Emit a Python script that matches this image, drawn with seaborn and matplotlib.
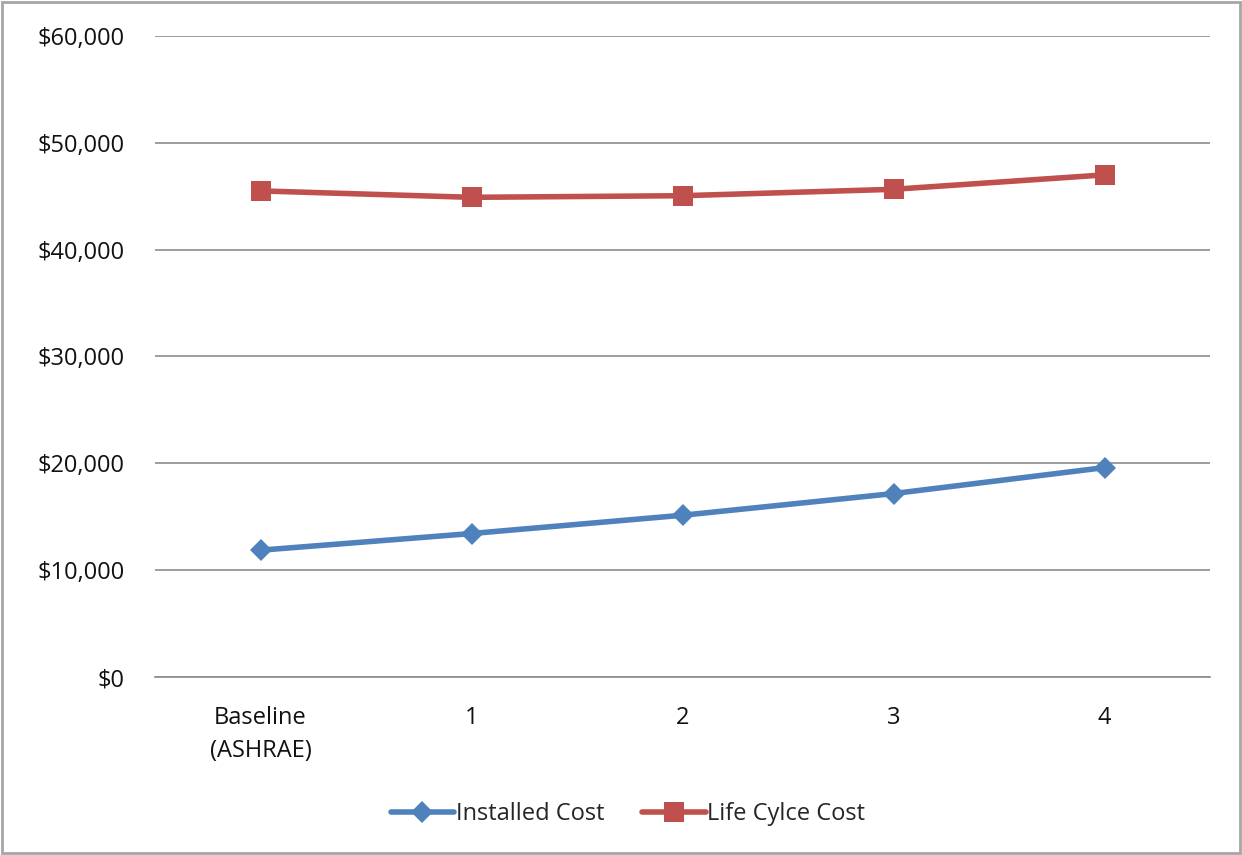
import matplotlib
matplotlib.use("Agg")
import matplotlib.pyplot as plt
import seaborn as sns
import pandas as pd
from matplotlib.patches import Rectangle
from matplotlib.ticker import FuncFormatter, MultipleLocator

categories = ["Baseline\n(ASHRAE)", "1", "2", "3", "4"]
installed_cost = [11870, 13430, 15140, 17170, 19600]
life_cycle_cost = [45500, 44900, 45050, 45650, 47000]
series_names = ["Installed Cost", "Life Cylce Cost"]

df = pd.DataFrame({
    "pos": list(range(len(categories))) * 2,
    "value": installed_cost + life_cycle_cost,
    "series": [series_names[0]] * len(categories) + [series_names[1]] * len(categories),
})

sns.set_theme(style="white")
plt.rcParams["font.family"] = ["Open Sans", "DejaVu Sans"]

fig = plt.figure(figsize=(12.42, 8.55), dpi=100)
ax = fig.add_axes([155 / 1242, 1 - 677 / 855, (1210 - 155) / 1242, (677 - 36) / 855])

colors = {"Installed Cost": "#4F81BD", "Life Cylce Cost": "#C0504D"}
markers = {"Installed Cost": "D", "Life Cylce Cost": "s"}
sizes = {"Installed Cost": 11, "Life Cylce Cost": 14}

for name in series_names:
    sub = df[df["series"] == name]
    sns.lineplot(data=sub, x="pos", y="value", ax=ax, color=colors[name],
                 marker=markers[name], markersize=sizes[name], markeredgewidth=0,
                 linewidth=4, label=name, zorder=3)

ax.set_xlim(-0.5, len(categories) - 0.5)
ax.set_ylim(0, 60000)
ax.yaxis.set_major_locator(MultipleLocator(10000))
ax.yaxis.set_major_formatter(FuncFormatter(lambda v, p: f"${v:,.0f}"))
ax.set_xticks(range(len(categories)))
ax.set_xticklabels(categories)
ax.set_xlabel("")
ax.set_ylabel("")

ax.grid(axis="y", color="#8C8C8C", linewidth=1.2)
ax.grid(axis="x", visible=False)
for s in ["top", "right", "left"]:
    ax.spines[s].set_visible(False)
ax.spines["bottom"].set_color("#8C8C8C")
ax.spines["bottom"].set_linewidth(1.2)
ax.tick_params(axis="y", length=0, pad=22, labelsize=17, labelcolor="#111111")
ax.tick_params(axis="x", length=0, pad=21, labelsize=17, labelcolor="#111111")
for lbl in ax.get_xticklabels():
    lbl.set_linespacing(1.5)

leg = ax.legend(loc="center", bbox_to_anchor=(0.448, -0.214), ncol=2, frameon=False,
                fontsize=17, handlelength=2.7, columnspacing=1.6, handletextpad=0.05)

fig.patches.append(Rectangle((0.002, 0.002), 0.996, 0.996, transform=fig.transFigure,
                             fill=False, edgecolor="#A6A6A6", linewidth=2))

fig.savefig("out.png", dpi=100, facecolor="white")
